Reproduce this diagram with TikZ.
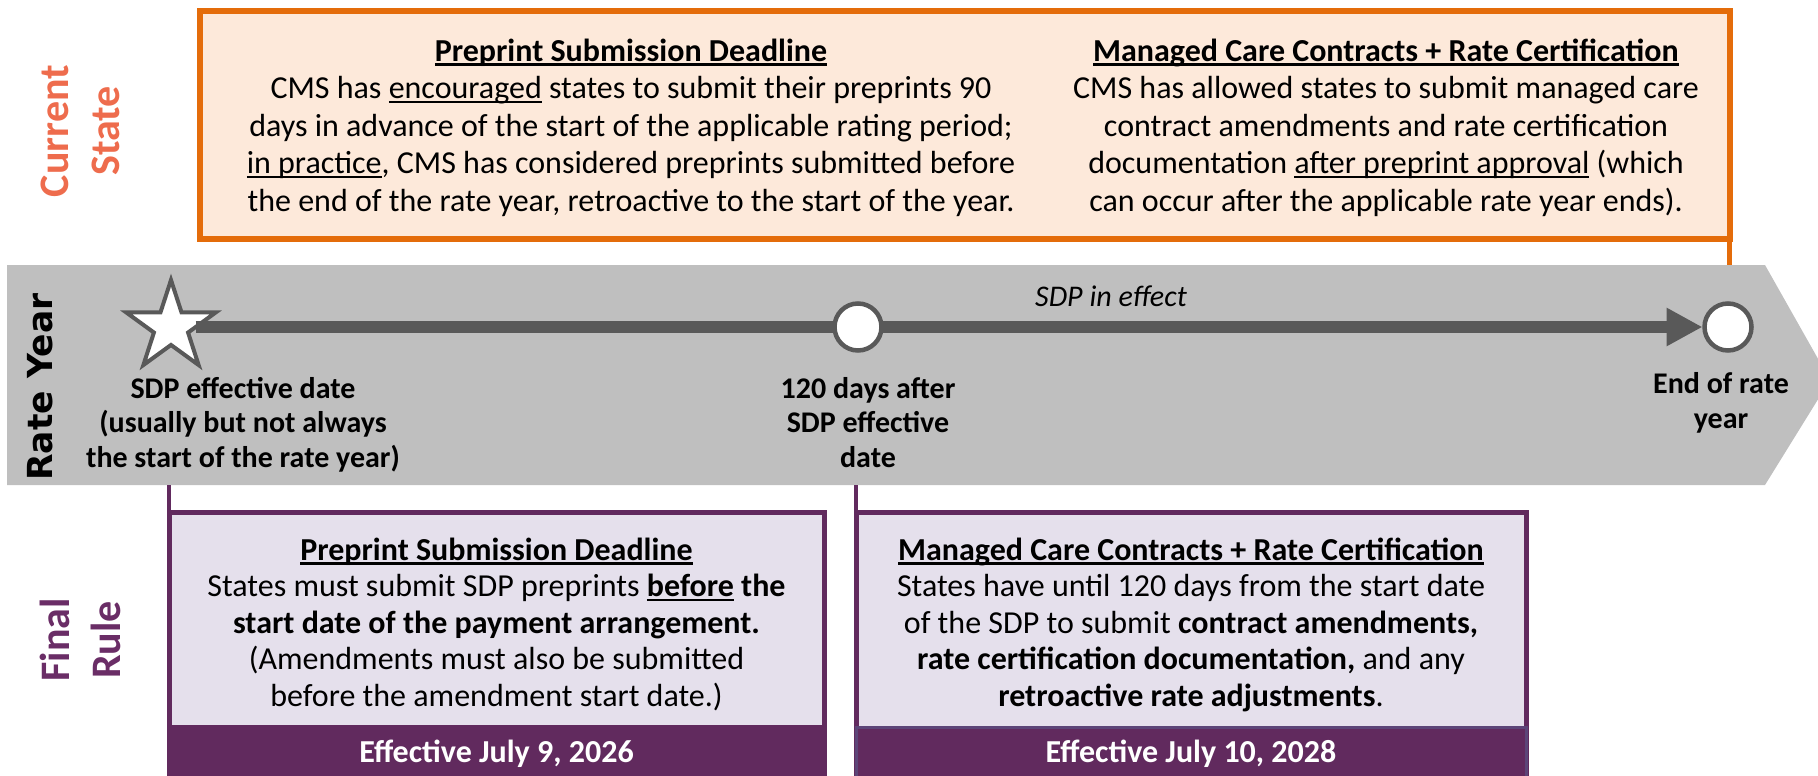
\documentclass[tikz,border=0pt]{standalone}
\usepackage{fontspec}
\setmainfont{Carlito}
\newfontfamily\widefont{DejaVu Sans}
\usetikzlibrary{shapes.geometric,arrows.meta}

\definecolor{orangeline}{HTML}{E46C0A}
\definecolor{orangefill}{HTML}{FDE9DA}
\definecolor{salmon}{HTML}{EE6C4D}
\definecolor{bandgray}{HTML}{BFBFBF}
\definecolor{track}{HTML}{595959}
\definecolor{plum}{HTML}{612A5E}
\definecolor{plumtext}{HTML}{6A2D66}
\definecolor{lavender}{HTML}{E5E0EC}
\definecolor{plumedge}{HTML}{5C4578}

% thick underline drawn under a box of text
\newsavebox\ulbox
\newcommand\undl[1]{\sbox\ulbox{#1}\rlap{\rule[-4.5pt]{\wd\ulbox}{2.5pt}}\usebox\ulbox}

\begin{document}
\begin{tikzpicture}[x=1pt,y=-1pt,
  every node/.style={inner sep=0pt, outer sep=0pt},
  body/.style={align=center, font=\fontsize{32}{37.5}\selectfont, anchor=base},
  rulebody/.style={align=center, font=\fontsize{32}{36.5}\selectfont, anchor=base},
  tlabel/.style={align=center, font=\bfseries\fontsize{30}{34.5}\selectfont, anchor=base},
  sidelabel/.style={align=center, rotate=90},
  marker/.style={circle, draw=track, line width=4.5pt, fill=white, minimum size=47pt, outer sep=2pt},
  startstar/.style={star, star points=5, star point ratio=2.618, minimum size=94pt,
                    draw=track, line width=4pt, fill=white},
  rulebox/.style={draw=plum, line width=5pt, fill=lavender},
  dateband/.style={fill=plum},
  datetext/.style={text=white, font=\bfseries\fontsize{32}{36}\selectfont, anchor=base},
  link/.style={draw=plum, line width=4pt},
  tracklink/.style={draw=track, line width=12pt, -{Triangle[length=36pt,width=36pt]}},
]
\useasboundingbox (0,0) rectangle (1818,776);

% ---------- current state ----------
\node[sidelabel, text=salmon, font=\bfseries\fontsize{42}{51}\selectfont] (cs) at (80,131) {Current\\State};

\node[draw=orangeline, fill=orangefill, line width=6pt,
      minimum width=1530pt, minimum height=228pt] (cur) at (964.5,125) {};

% multi-line nodes are anchored at the baseline of their last line
\node[body] (curL) at (631,211) {\undl{\textbf{Preprint Submission Deadline}}\\
CMS has \undl{encouraged} states to submit their preprints 90\\
days in advance of the start of the applicable rating period;\\
\undl{in practice}, CMS has considered preprints submitted before\\
the end of the rate year, retroactive to the start of the year.};

\node[body] (curR) at (1386,211) {\undl{\textbf{Managed Care Contracts + Rate Certification}}\\
CMS has allowed states to submit managed care\\
contract amendments and rate certification\\
documentation \undl{after preprint approval} (which\\
can occur after the applicable rate year ends).};

% ---------- rate year band ----------
\fill[bandgray] (7,265) -- (1765,265) -- (1830,380) -- (1765,485) -- (7,485) -- cycle;

\coordinate (otop) at (1729.5,265);
\draw[orangeline, line width=5pt] (cur.south east) -- (otop);

\node[sidelabel, font=\widefont\bfseries\fontsize{34.5}{40}\selectfont] (ry) at (40,387) {Rate Year};

\node[startstar] (st) at (171,327) {};
\node[marker] (endm) at (1728,327) {};
\draw[tracklink] (st) -- (endm);
\node[marker] (midm) at (858,327) {};

\node[anchor=base, font=\itshape\fontsize{30}{34}\selectfont] (eff) at (1111,306) {SDP in effect};

\node[tlabel] (lst) at (243,467) {SDP effective date\\(usually but not always\\the start of the rate year)};
\node[tlabel] (lmid) at (868,467) {120 days after\\SDP effective\\date};
\node[tlabel] (lend) at (1721,428) {End of rate\\year};

% ---------- final rule ----------
\node[sidelabel, text=plumtext, font=\bfseries\fontsize{42}{51}\selectfont] (fr) at (80,640) {Final\\Rule};

\node[rulebox, minimum width=655pt, minimum height=280pt] (b1) at (496.5,652.5) {};
\node[rulebox, minimum width=670pt, minimum height=280pt] (b2) at (1191,652.5) {};

\coordinate (d1) at (169,485);
\coordinate (d2) at (856,485);
\draw[link] (d1) -- (b1.north west);
\draw[link] (d2) -- (b2.north west);

\node[dateband, minimum width=660pt, minimum height=56pt] (band1) at (496.5,753) {};
\node[dateband, draw=plumedge, line width=3pt, minimum width=670pt, minimum height=56pt] (band2) at (1191,755) {};

\node[rulebody] (t1) at (496.5,706) {\undl{\textbf{Preprint Submission Deadline}}\\
States must submit SDP preprints \undl{\textbf{before}} \textbf{the}\\
\textbf{start date of the payment arrangement.}\\
(Amendments must also be submitted\\
before the amendment start date.)};

\node[rulebody] (t2) at (1191,706) {\undl{\textbf{Managed Care Contracts + Rate Certification}}\\
States have until 120 days from the start date\\
of the SDP to submit \textbf{contract amendments,}\\
\textbf{rate certification documentation,} and any\\
\textbf{retroactive rate adjustments}.};

\node[datetext] (e1) at (496.5,762) {Effective July 9, 2026};
\node[datetext] (e2) at (1191,762) {Effective July 10, 2028};
\end{tikzpicture}
\end{document}
